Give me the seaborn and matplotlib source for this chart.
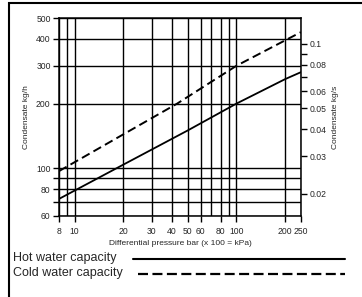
import matplotlib
matplotlib.use("Agg")
import matplotlib.pyplot as plt
import matplotlib.ticker as mticker
from matplotlib.lines import Line2D
from matplotlib.patches import Rectangle
import seaborn as sns
import pandas as pd

# chart data
hot_dp = [8, 20, 50, 100, 200, 250]
hot_kgh = [72, 104, 150, 200, 260, 280]
cold_dp = [8, 43, 100, 250]
cold_kgh = [97, 200, 300, 430]

x_grid = [8, 9, 10, 20, 30, 40, 50, 60, 70, 80, 90, 100, 200, 250]
x_labels = [8, 10, 20, 30, 40, 50, 60, 80, 100, 200, 250]
y_grid = [60, 70, 80, 90, 100, 200, 300, 400, 500]
y_labels = [60, 80, 100, 200, 300, 400, 500]
kgs_labels = [0.02, 0.03, 0.04, 0.05, 0.06, 0.08, 0.1]
kgs_minor = [0.07, 0.09]
kgh_per_kgs = 3800

sns.set_style("ticks")
plt.rcParams["font.family"] = ["Liberation Sans", "DejaVu Sans"]

fig = plt.figure(figsize=(3.62, 2.97), dpi=100)
ax = fig.add_axes([0.163, 0.273, 0.668, 0.666])

hot = pd.DataFrame({"dp": hot_dp, "kgh": hot_kgh})
cold = pd.DataFrame({"dp": cold_dp, "kgh": cold_kgh})
sns.lineplot(data=hot, x="dp", y="kgh", ax=ax, color="black", lw=1.3)
sns.lineplot(data=cold, x="dp", y="kgh", ax=ax, color="black", lw=1.4)
ax.lines[-1].set_dashes((4.5, 2.3))

ax.set_xscale("log")
ax.set_yscale("log")
ax.set_xlim(8, 250)
ax.set_ylim(60, 500)

for v in x_grid:
    ax.axvline(v, color="black", lw=1.0, zorder=0)
for v in y_grid:
    ax.axhline(v, color="black", lw=1.0, zorder=0)

ax.xaxis.set_major_locator(mticker.FixedLocator(x_labels))
ax.xaxis.set_major_formatter(mticker.FixedFormatter([str(v) for v in x_labels]))
ax.xaxis.set_minor_locator(mticker.NullLocator())
ax.yaxis.set_major_locator(mticker.FixedLocator(y_labels))
ax.yaxis.set_major_formatter(mticker.FixedFormatter([str(v) for v in y_labels]))
ax.yaxis.set_minor_locator(mticker.FixedLocator([70, 90]))
ax.tick_params(axis="both", which="both", labelsize=6.2, length=4, width=1.0,
               color="black", pad=2)
ax.tick_params(axis="x", pad=4)

ax.set_xlabel("Differential pressure bar (x 100 = kPa)", fontsize=6, labelpad=3)
ax.set_ylabel("Condensate kg/h", fontsize=6, labelpad=4)
for s in ax.spines.values():
    s.set_color("black")
    s.set_linewidth(1.1)

ax2 = ax.twinx()
ax2.set_yscale("log")
ax2.set_ylim(60 / kgh_per_kgs, 500 / kgh_per_kgs)
ax2.yaxis.set_major_locator(mticker.FixedLocator(kgs_labels))
ax2.yaxis.set_major_formatter(mticker.FixedFormatter([str(v) for v in kgs_labels]))
ax2.yaxis.set_minor_locator(mticker.FixedLocator(kgs_minor))
ax2.yaxis.set_minor_formatter(mticker.NullFormatter())
ax2.tick_params(axis="y", which="both", labelsize=6.2, length=4, width=1.0,
                color="black", pad=2)
ax2.set_ylabel("Condensate kg/s", fontsize=6, labelpad=4)
for s in ax2.spines.values():
    s.set_visible(False)

# legend drawn below the chart
fig.text(13 / 362, 1 - 258 / 297, "Hot water capacity", fontsize=9, va="center")
fig.text(13 / 362, 1 - 273 / 297, "Cold water capacity", fontsize=9, va="center")
fig.add_artist(Line2D([133 / 362, 345 / 362], [1 - 259 / 297] * 2,
                      transform=fig.transFigure, color="black", lw=1.5))
fig.add_artist(Line2D([138 / 362, 345 / 362], [1 - 274 / 297] * 2,
                      transform=fig.transFigure, color="black", lw=1.6,
                      dashes=(4.5, 2.0)))

# outer frame
fig.add_artist(Rectangle((9 / 362, -0.1), 1.2, 1 - 3 / 297 + 0.1,
                         transform=fig.transFigure, fill=False,
                         edgecolor="black", lw=1.5))

fig.savefig("out.png", dpi=100)
